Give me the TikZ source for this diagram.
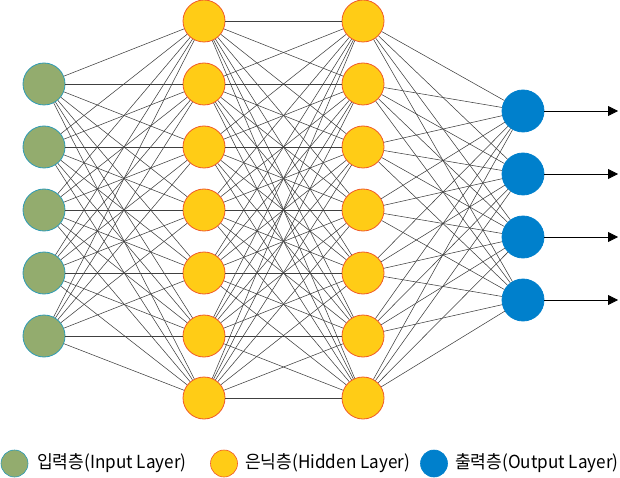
\documentclass[tikz,border=0pt]{standalone}
\usepackage{fontspec}
\newfontfamily\kofont{Noto Sans CJK KR}
\usetikzlibrary{arrows.meta}

\definecolor{verde}{HTML}{93AC6E}
\definecolor{bordeverde}{HTML}{2E9BB5}
\definecolor{amarillo}{HTML}{FFCC16}
\definecolor{bordeamarillo}{HTML}{F05A28}
\definecolor{azul}{HTML}{0080CC}

\newcommand{\estrecho}[1]{\scalebox{0.95}[1]{#1}}

\tikzset{
  neurona/.style={circle, minimum size=42pt, inner sep=0pt, line width=0.8pt},
  entrada/.style={neurona, fill=verde, draw=bordeverde},
  oculta/.style={neurona, fill=amarillo, draw=bordeamarillo},
  salida/.style={neurona, fill=azul, draw=azul},
  conexion/.style={black!75, line width=0.55pt},
  muestra/.style={circle, minimum size=27pt, inner sep=0pt, line width=0.6pt},
  leyenda/.style={anchor=west, inner sep=0pt, font=\kofont\fontsize{18}{20}\selectfont}
}

\begin{document}
\begin{tikzpicture}[x=1pt, y=-1pt]
\useasboundingbox (0,0) rectangle (620,478);
% Capa de entrada
\foreach \i/\y in {1/84, 2/147, 3/210, 4/273, 5/336}
  \node[entrada] (E\i) at (44,\y) {};
% Primera capa oculta
\foreach \i/\y in {1/21, 2/84, 3/147, 4/210, 5/273, 6/336, 7/398}
  \node[oculta] (A\i) at (204,\y) {};
% Segunda capa oculta
\foreach \i/\y in {1/21, 2/84, 3/147, 4/210, 5/273, 6/336, 7/398}
  \node[oculta] (B\i) at (363,\y) {};
% Capa de salida
\foreach \i/\y in {1/111, 2/174, 3/237, 4/300} {
  \node[salida] (S\i) at (523,\y) {};
  \coordinate (F\i) at (618,\y);
}
% Conexiones
\foreach \i in {1,...,5}
  \foreach \j in {1,...,7}
    \draw[conexion] (E\i) -- (A\j);
\foreach \i in {1,...,7}
  \foreach \j in {1,...,7}
    \draw[conexion] (A\i) -- (B\j);
\foreach \i in {1,...,7}
  \foreach \j in {1,...,4}
    \draw[conexion] (B\i) -- (S\j);
% Salidas
\foreach \i in {1,...,4}
  \draw[black, line width=0.8pt, -{Triangle[length=10pt, width=10pt]}] (S\i) -- (F\i);
% Leyenda
\node[muestra, fill=verde, draw=bordeverde] (M1) at (14.5,463.5) {};
\node[leyenda] (L1) at (37,463) {\estrecho{입력층(Input Layer)}};
\node[muestra, fill=amarillo, draw=bordeamarillo] (M2) at (224,463.5) {};
\node[leyenda] (L2) at (245,463) {\estrecho{은닉층(Hidden Layer)}};
\node[muestra, fill=azul, draw=azul] (M3) at (434,463.5) {};
\node[leyenda] (L3) at (455,463) {\estrecho{출력층(Output Layer)}};
\end{tikzpicture}
\end{document}
